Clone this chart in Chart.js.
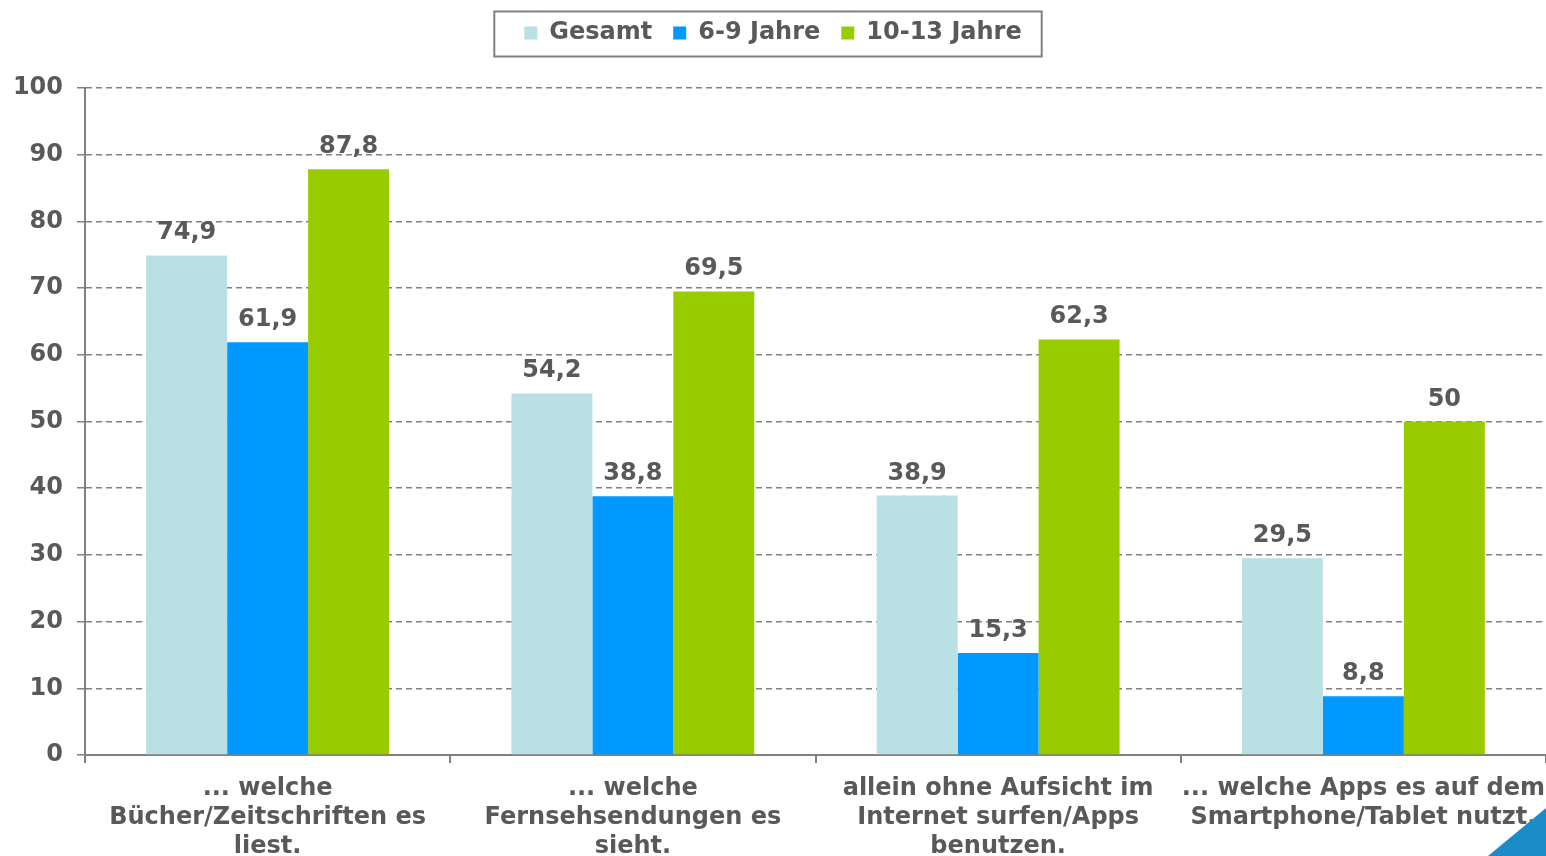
<!DOCTYPE html>
<html>
<head>
<meta charset="utf-8">
<script src="https://cdn.jsdelivr.net/npm/chart.js@4"></script>
<style>
  body { margin: 0; background: #fff; }
  #wrap { position: relative; width: 1546px; height: 856px; overflow: hidden; }
  #ecke { position: absolute; right: 0; bottom: 0; width: 58px; height: 48px;
          background: #1b8cc8; clip-path: polygon(100% 0, 100% 100%, 0 100%); }
</style>
</head>
<body>
<div id="wrap">
  <canvas id="grafik"></canvas>
  <div id="ecke"></div>
</div>
<script>
// Kategorien (mehrzeilige Beschriftungen)
const kategorien = [
  ['... welche', 'Bücher/Zeitschriften es', 'liest.'],
  ['... welche', 'Fernsehsendungen es', 'sieht.'],
  ['allein ohne Aufsicht im', 'Internet surfen/Apps', 'benutzen.'],
  ['... welche Apps es auf dem', 'Smartphone/Tablet nutzt.']
];
const serien = ['Gesamt', '6-9 Jahre', '10-13 Jahre'];
const gesamt = [74.9, 54.2, 38.9, 29.5];
const jahre6bis9 = [61.9, 38.8, 15.3, 8.8];
const jahre10bis13 = [87.8, 69.5, 62.3, 50];
const yTicks = [0, 10, 20, 30, 40, 50, 60, 70, 80, 90, 100];

const farben = ['#b9e0e3', '#0099ff', '#99cc00'];
const textFarbe = '#595959';
const grau = '#808080';
const schrift = { family: "'DejaVu Sans', Verdana, sans-serif", size: 24, weight: 'bold' };

// Werte über die Balken schreiben
const werteBeschriftung = {
  id: 'werteBeschriftung',
  afterDatasetsDraw(chart) {
    const ctx = chart.ctx;
    ctx.save();
    ctx.font = 'bold 24px "DejaVu Sans", Verdana, sans-serif';
    ctx.fillStyle = textFarbe;
    ctx.textAlign = 'center';
    ctx.textBaseline = 'alphabetic';
    chart.data.datasets.forEach((ds, i) => {
      chart.getDatasetMeta(i).data.forEach((bar, j) => {
        ctx.fillText(String(ds.data[j]).replace('.', ','), bar.x, bar.y - 16);
      });
    });
    ctx.restore();
  }
};

// Legende: feste Höhe und Rahmen
const legendenRahmen = {
  id: 'legendenRahmen',
  beforeUpdate(chart) {
    const lg = chart.legend;
    if (lg && !lg._gepatcht) {
      const fitAlt = lg.fit;
      lg.fit = function () { fitAlt.call(this); this.height = 88; };
      lg._gepatcht = true;
    }
  },
  afterDraw(chart) {
    const boxes = chart.legend && chart.legend.legendHitBoxes;
    if (!boxes || !boxes.length) return;
    const links = Math.min(...boxes.map(b => b.left)) - 30;
    const rechts = Math.max(...boxes.map(b => b.left + b.width)) + 20;
    const mitte = boxes[0].top + boxes[0].height / 2 + 1;
    const ctx = chart.ctx;
    ctx.save();
    ctx.strokeStyle = grau;
    ctx.lineWidth = 2;
    ctx.strokeRect(links, mitte - 22.5, rechts - links, 45);
    ctx.restore();
  }
};

new Chart(document.getElementById('grafik'), {
  type: 'bar',
  data: {
    labels: kategorien,
    datasets: [
      { label: serien[0], data: gesamt, backgroundColor: farben[0] },
      { label: serien[1], data: jahre6bis9, backgroundColor: farben[1] },
      { label: serien[2], data: jahre10bis13, backgroundColor: farben[2] }
    ]
  },
  options: {
    responsive: true,
    maintainAspectRatio: false,
    animation: false,
    layout: { padding: 0 },
    datasets: { bar: { barPercentage: 1, categoryPercentage: 0.665 } },
    plugins: {
      tooltip: { enabled: false },
      legend: {
        position: 'top',
        labels: {
          color: textFarbe,
          font: schrift,
          boxWidth: 13,
          boxHeight: 13,
          padding: 21
        }
      }
    },
    scales: {
      x: {
        afterFit(s) { s.height = 101; s.paddingLeft = 0; s.paddingRight = 0; },
        grid: { drawOnChartArea: false, offset: true, tickLength: 8, color: grau, lineWidth: 2 },
        border: { color: grau, width: 2 },
        ticks: { color: textFarbe, font: { ...schrift, lineHeight: 1.21 }, padding: 11,
                 maxRotation: 0, autoSkip: false }
      },
      y: {
        min: yTicks[0],
        max: yTicks[yTicks.length - 1],
        afterFit(s) { s.width = 85; },
        afterBuildTicks(s) { s.ticks = yTicks.map(v => ({ value: v })); },
        grid: { color: grau, lineWidth: 1.5, tickLength: 8, tickColor: grau },
        border: { color: grau, width: 2, dash: [6, 4] },
        ticks: { color: textFarbe, font: schrift, padding: 14 }
      }
    }
  },
  plugins: [werteBeschriftung, legendenRahmen]
});
</script>
</body>
</html>
